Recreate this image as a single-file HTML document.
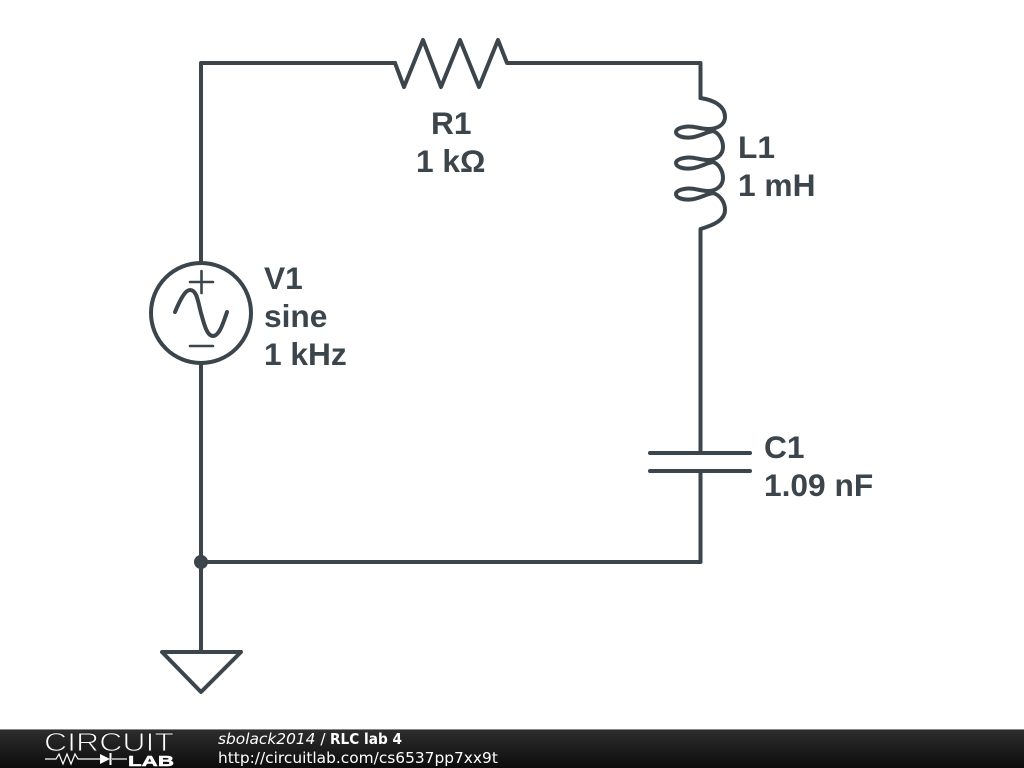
<!DOCTYPE html>
<html>
<head>
<meta charset="utf-8">
<style>
html,body{margin:0;padding:0;background:#fff;width:1024px;height:768px;overflow:hidden}
svg{display:block}
.l{font-family:"Liberation Sans",Arial,sans-serif;font-weight:700;font-size:31.7px;fill:#3b454b}
.f{font-family:"DejaVu Sans",sans-serif;font-size:15.4px;fill:#fff}
</style>
</head>
<body>
<svg width="1024" height="768" viewBox="0 0 1024 768" xmlns="http://www.w3.org/2000/svg">
<defs>
<linearGradient id="bar" x1="0" y1="0" x2="0" y2="1">
<stop offset="0" stop-color="#2e2e2e"/>
<stop offset="1" stop-color="#0c0c0c"/>
</linearGradient>
</defs>
<rect width="1024" height="768" fill="#fff"/>
<g fill="none" stroke="#3b454b" stroke-width="4" stroke-linecap="round" stroke-linejoin="round">
<!-- wires -->
<path d="M201 262V63H395"/>
<path d="M395 63L404 87L423 40L441 87L460 40L479 87L498 40L507 63H700.5V98"/>
<!-- inductor -->
<path d="M700.5 98C714 100 725 106 725 117C725 125 717 129 708 129C700 129 695 126 688 126.500C681 127 676 129 676 132C676 136 683 138 690 137.500C699 137 706 132 713 131C719 133 723 140 723 147C723 155 716 160 708 160C700 160 695 157 688 157.500C681 158 676 160 676 163C676 167 683 169 690 168.500C699 168 706 163 713 162C719 164 723 171 723 178C723 186 716 191 708 191C700 191 695 188 688 188.500C681 189 676 191 676 194C676 198 683 200 690 199.500C699 199 706 194 713 193C720 195 725 202 725 210C725 220 714 225 700.500 229V453"/>
<!-- capacitor -->
<path d="M650 453H750M650 471H750"/>
<path d="M700.5 471V562H201"/>
<!-- source -->
<circle cx="201" cy="313" r="50"/>
<path d="M201 363V652"/>
<path d="M190 282H213M201.500 271V293" stroke-width="2.600"/>
<path d="M190 346H213" stroke-width="2.600"/>
<path d="M175 312C180 300 185 290 190 290C197 290 198 302 201 313C204 324 207 336 213 336C219 336 223 324 227 312"/>
<!-- ground -->
<path d="M162 652H241L201 692Z"/>
</g>
<circle cx="201" cy="562" r="7" fill="#3b454b"/>
<text class="l" x="431" y="134">R1</text>
<text class="l" x="416" y="172">1 kΩ</text>
<text class="l" x="738" y="158">L1</text>
<text class="l" x="738" y="196">1 mH</text>
<text class="l" x="264" y="289">V1</text>
<text class="l" x="264" y="327">sine</text>
<text class="l" x="264" y="365">1 kHz</text>
<text class="l" x="764" y="458">C1</text>
<text class="l" x="764" y="496">1.09 nF</text>
<!-- footer -->
<rect x="0" y="729" width="1024" height="39" fill="url(#bar)"/>
<rect x="0" y="729" width="1024" height="1" fill="#888"/>
<text x="44" y="751" font-family="'Liberation Sans',sans-serif" font-size="25.500" fill="#fff" stroke="#222" stroke-width="0.900" textLength="130" lengthAdjust="spacingAndGlyphs">CIRCUIT</text>
<path d="M45 759H56L59 754L63 764L67 754L71 764L75 754L78 759H100" fill="none" stroke="#fff" stroke-width="1.200"/>
<path d="M100 754V764L110 759Z" fill="#fff"/>
<path d="M110.500 753V765" stroke="#fff" stroke-width="2"/>
<path d="M112 759H127" stroke="#fff" stroke-width="1.200"/>
<text x="128" y="766" font-family="'Liberation Sans',sans-serif" font-weight="700" font-size="15" fill="#fff" stroke="#fff" stroke-width="0.500" textLength="46" lengthAdjust="spacingAndGlyphs">LAB</text>
<text class="f" x="218" y="744"><tspan font-style="oblique">sbolack2014</tspan> /</text>
<text class="f" x="330" y="744" font-weight="700" textLength="72" lengthAdjust="spacingAndGlyphs">RLC lab 4</text>
<text class="f" x="218" y="763">http://circuitlab.com/cs6537pp7xx9t</text>
</svg>
</body>
</html>
